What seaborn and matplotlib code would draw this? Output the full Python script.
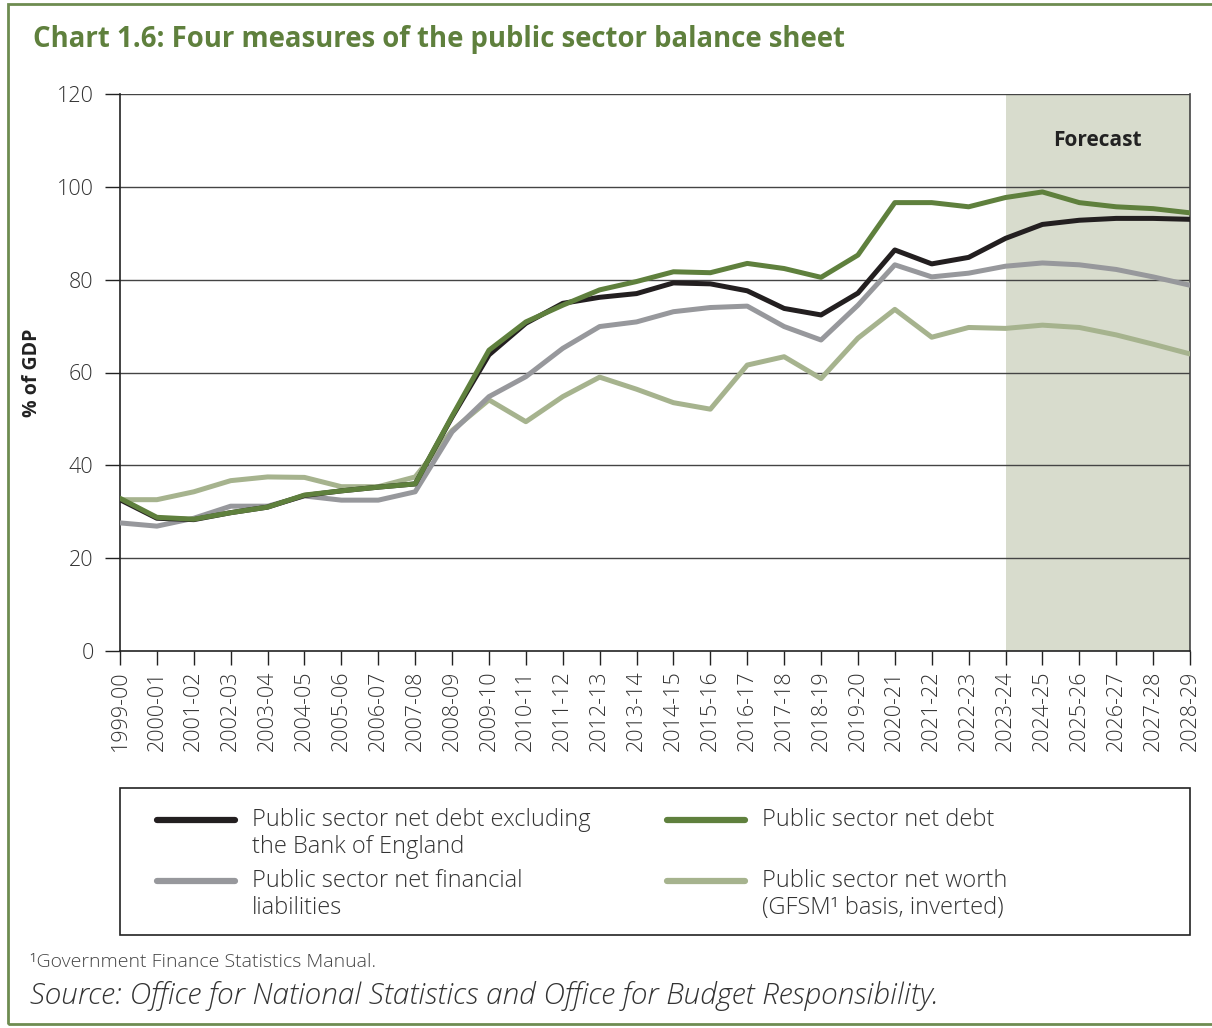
import numpy as np
import pandas as pd
import matplotlib
matplotlib.use("Agg")
import matplotlib.pyplot as plt
import seaborn as sns
from matplotlib.lines import Line2D
from matplotlib.patches import Rectangle

years = ["1999-00", "2000-01", "2001-02", "2002-03", "2003-04", "2004-05", "2005-06",
         "2006-07", "2007-08", "2008-09", "2009-10", "2010-11", "2011-12", "2012-13",
         "2013-14", "2014-15", "2015-16", "2016-17", "2017-18", "2018-19", "2019-20",
         "2020-21", "2021-22", "2022-23", "2023-24", "2024-25", "2025-26", "2026-27",
         "2027-28", "2028-29"]

psnd_ex_boe = [32.6, 28.6, 28.3, 29.8, 31.0, 33.5, 34.5, 35.3, 36.0, 50.4, 63.8, 70.6,
               74.9, 76.2, 77.0, 79.3, 79.1, 77.6, 73.8, 72.4, 77.1, 86.4, 83.4, 84.8,
               88.9, 91.9, 92.8, 93.2, 93.2, 93.0]
psnd = [32.9, 28.8, 28.4, 29.8, 31.0, 33.6, 34.5, 35.3, 36.0, 50.6, 64.8, 70.9,
        74.5, 77.8, 79.6, 81.7, 81.5, 83.5, 82.4, 80.5, 85.3, 96.6, 96.6, 95.7,
        97.7, 98.9, 96.6, 95.7, 95.3, 94.4]
psnfl = [27.6, 26.9, 28.6, 31.2, 31.2, 33.4, 32.5, 32.5, 34.3, 47.2, 54.8, 59.1,
         65.2, 69.9, 70.9, 73.1, 74.0, 74.3, 69.9, 67.0, 74.5, 83.2, 80.6, 81.4,
         82.9, 83.6, 83.2, 82.2, 80.6, 78.8]
psnw = [32.6, 32.6, 34.3, 36.7, 37.5, 37.4, 35.4, 35.4, 37.5, 47.5, 54.1, 49.4,
        54.8, 59.0, 56.4, 53.5, 52.1, 61.6, 63.4, 58.7, 67.4, 73.6, 67.6, 69.7,
        69.5, 70.2, 69.7, 68.1, 66.1, 64.0]

series_names = ["Public sector net debt excluding\nthe Bank of England",
                "Public sector net financial\nliabilities",
                "Public sector net debt",
                "Public sector net worth\n(GFSM\u00b9 basis, inverted)"]
series_values = [psnd_ex_boe, psnfl, psnd, psnw]
colors = ["#231f20", "#97989c", "#5f803d", "#a6b38e"]
draw_order = [3, 1, 0, 2]
forecast_start = "2023-24"

rows = []
for k in draw_order:
    for i, v in enumerate(series_values[k]):
        rows.append({"idx": i, "value": v, "series": series_names[k]})
df = pd.DataFrame(rows)

sns.set_theme(style="white")
plt.rcParams["font.family"] = ["Open Sans", "DejaVu Sans"]

W, H = 1212, 1028
fig = plt.figure(figsize=(W / 100, H / 100), dpi=100)
ax = fig.add_axes([120 / W, 1 - 651 / H, 1070 / W, 557 / H])

def fx(px):
    return px / W

def fy(py):
    return 1 - py / H

fs = years.index(forecast_start)
ax.axvspan(fs, len(years) - 1, color="#d8dccd", zorder=0, lw=0)

for y in range(20, 121, 20):
    ax.axhline(y, color="#444444", lw=1.0, zorder=1)

palette = {series_names[k]: colors[k] for k in range(4)}
sns.lineplot(data=df, x="idx", y="value", hue="series", palette=palette,
             hue_order=[series_names[k] for k in draw_order],
             linewidth=3.6, ax=ax, legend=False, zorder=3)

ax.set_xlim(0, len(years) - 1)
ax.set_ylim(0, 120)
ax.set_yticks(range(0, 121, 20))
ax.set_xticks(range(len(years)))
ax.set_xticklabels(years, rotation=90, fontsize=15.5, color="#333333", fontweight="light")
ax.tick_params(axis="y", labelsize=15.5, labelcolor="#333333", direction="out",
               length=11, width=1, color="#222222", left=True, pad=8)
ax.tick_params(axis="x", direction="out", length=10, width=1, color="#222222",
               bottom=True, pad=4)
for lab in ax.get_yticklabels():
    lab.set_fontweight("light")
ax.set_xlabel("")
ax.set_ylabel("% of GDP", fontsize=14, fontweight="bold", color="#222222")
ax.yaxis.set_label_coords((42 - 120) / 1070, 0.5)

for s in ["left", "bottom", "right"]:
    ax.spines[s].set_color("#222222")
    ax.spines[s].set_linewidth(1.2)
ax.spines["top"].set_visible(False)
ax.spines["right"].set_color("#444444")

ax.text((fs + len(years) - 1) / 2, 110, "Forecast", ha="center", va="center",
        fontsize=15, fontweight="bold", color="#222222")

# Title
fig.text(fx(33), fy(40), "Chart 1.6: Four measures of the public sector balance sheet",
         fontsize=19.8, fontweight="bold", color="#5f803d", va="center", ha="left")

# Legend (manual layout to match the two-column boxed key)
fig.patches.append(Rectangle((fx(120), fy(935)), fx(1190) - fx(120), fy(788) - fy(935),
                             transform=fig.transFigure, fill=False,
                             edgecolor="#222222", lw=1.2))
legend_pos = [(157, 820), (157, 881), (667, 820), (667, 881)]
for k, (lx, ly) in enumerate(legend_pos):
    fig.add_artist(Line2D([fx(lx), fx(lx + 78)], [fy(ly), fy(ly)], color=colors[k],
                          lw=4.5, solid_capstyle="round", transform=fig.transFigure))
    fig.text(fx(lx + 95), fy(ly - 12), series_names[k], fontsize=17, color="#333333",
             va="top", ha="left", linespacing=1.15, fontweight="light")

fig.text(fx(30), fy(962), "\u00b9Government Finance Statistics Manual.",
         fontsize=14, color="#444444", va="center", ha="left", fontweight="light")
fig.text(fx(30), fy(996),
         "Source: Office for National Statistics and Office for Budget Responsibility.",
         fontsize=21.5, style="italic", color="#333333", va="center", ha="left",
         fontweight="light")

# outer green border
fig.patches.append(Rectangle((fx(8), 4 / H), 1 - fx(8) + 0.01, 1 - 8 / H,
                             transform=fig.transFigure, fill=False,
                             edgecolor="#6e8c50", lw=2.0, zorder=10))

fig.savefig("out.png", dpi=100)
